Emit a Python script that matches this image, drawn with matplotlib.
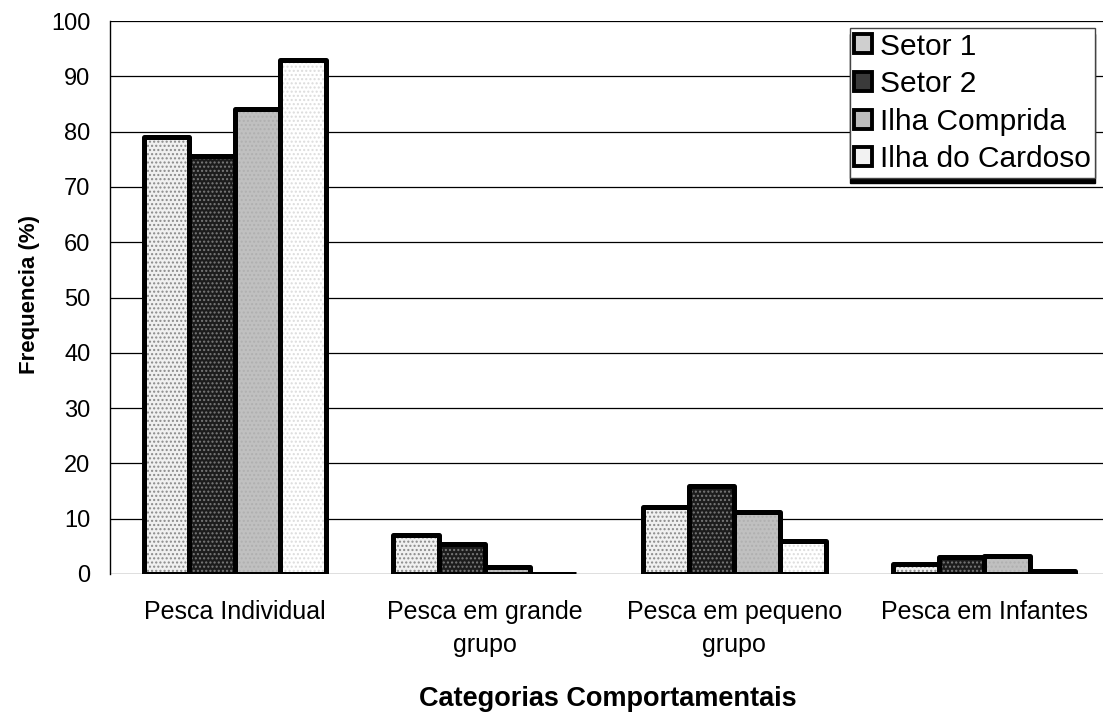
import matplotlib
matplotlib.use("Agg")
import matplotlib.pyplot as plt
import numpy as np
from matplotlib.patches import Patch

plt.rcParams["font.family"] = ["Liberation Sans", "DejaVu Sans"]
plt.rcParams["hatch.linewidth"] = 1.0

categories = ["Pesca Individual", "Pesca em grande\ngrupo", "Pesca em pequeno\ngrupo", "Pesca em Infantes"]
series_names = ["Setor 1", "Setor 2", "Ilha Comprida", "Ilha do Cardoso"]
setor1 = [79.0, 7.0, 12.1, 1.8]
setor2 = [75.5, 5.5, 15.9, 3.0]
ilha_comprida = [84.0, 1.2, 11.3, 3.2]
ilha_cardoso = [93.0, 0.0, 6.0, 0.6]
series_values = [setor1, setor2, ilha_comprida, ilha_cardoso]

# fill, dot colour, legend swatch colour
styles = [
    ("#f0f0f0", "#8a8a8a", "#cfcfcf"),
    ("#1c1c1c", "#7a7a7a", "#3a3a3a"),
    ("#c0c0c0", "#b0b0b0", "#bdbdbd"),
    ("#ffffff", "#dcdcdc", "#f2f2f2"),
]

W, H = 1103, 728
fig = plt.figure(figsize=(W / 100, H / 100), dpi=100)
ax = fig.add_axes([110 / W, (H - 574) / H, (1109 - 110) / W, (574 - 21) / H])

x = np.arange(len(categories))
bar_w = 0.1825
offsets = (np.arange(4) - 1.5) * bar_w

for vals, off, (face, dots, _) in zip(series_values, offsets, styles):
    ax.bar(x + off, vals, width=bar_w, color=face, edgecolor=dots, linewidth=0,
           hatch="....", zorder=3)
    ax.bar(x + off, vals, width=bar_w, facecolor="none", edgecolor="black",
           linewidth=3.6, joinstyle="round", zorder=4)

ax.set_xlim(-0.5, 3.5)
ax.set_ylim(0, 100)
ax.set_yticks(np.arange(0, 101, 10))
ax.yaxis.grid(True, color="black", linewidth=0.9, zorder=0)
ax.set_axisbelow(True)
for side in ["top", "right", "bottom"]:
    ax.spines[side].set_visible(False)
ax.spines["left"].set_linewidth(1.0)
ax.tick_params(axis="y", length=0, pad=14, labelsize=17)
ax.tick_params(axis="x", length=0, pad=19, labelsize=18)
ax.set_xticks(x)
ax.set_xticklabels(categories, linespacing=1.45)

fig.text(30 / W, 1 - 295 / H, "Frequencia (%)", rotation=90, fontsize=16,
         fontweight="bold", ha="center", va="center")
fig.text(608 / W, 1 - 699 / H, "Categorias Comportamentais", fontsize=19.5,
         fontweight="bold", ha="center", va="center")

handles = [Patch(facecolor=s[2], edgecolor="black", linewidth=2.8) for s in styles]
leg = ax.legend(handles, series_names, loc="upper right", bbox_to_anchor=(0.986, 0.9873),
                fontsize=21.5, frameon=True, fancybox=False, edgecolor="#444444",
                shadow={"color": "black", "alpha": 1.0, "ox": 0, "oy": -4},
                borderpad=0.15, labelspacing=0.32, handlelength=0.6, handleheight=0.6,
                handletextpad=0.25, borderaxespad=0)
leg.get_frame().set_linewidth(1.0)

fig.savefig("out.png", dpi=100)
